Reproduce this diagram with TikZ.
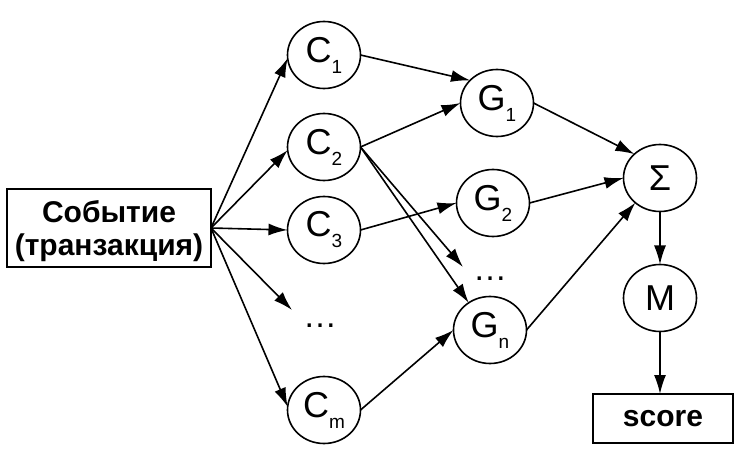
\documentclass[tikz,border=0pt]{standalone}
\usepackage{fontspec}
\setmainfont{Liberation Sans}
\usetikzlibrary{shapes.geometric,arrows.meta}

% letter with a lowered index, as used inside the round units
\newcommand{\unitlabel}[2]{{\fontsize{36}{36}\selectfont #1}\raisebox{-11pt}{\fontsize{19}{19}\selectfont #2}}

\begin{document}
\begin{tikzpicture}[x=1pt,y=-1pt,
  every node/.style={inner sep=0pt, outer sep=0pt},
  unit/.style={ellipse, draw, line width=1.6pt, minimum width=73pt, minimum height=67pt,
               font=\fontsize{36}{36}\selectfont},
  frame/.style={draw, line width=1.6pt},
  boldtext/.style={font=\bfseries\fontsize{30}{33}\selectfont, align=center},
  dots/.style={font=\fontsize{34}{34}\selectfont},
  link/.style={line width=1.6pt, -{Latex[length=19pt,width=12pt]}}]

\useasboundingbox (0,0) rectangle (741,454);

% input event
\node[frame, minimum width=204pt, minimum height=78pt] (event) at (109,228) {};
\node[boldtext] (eventtext) at ([yshift=-3pt]event.center) {Событие\\(транзакция)};

% first layer
\node[unit] (C1) at (324,55)  {\unitlabel{C}{1}};
\node[unit] (C2) at (324,147) {\unitlabel{C}{2}};
\node[unit] (C3) at (324,230) {\unitlabel{C}{3}};
\node[dots] (Cdots) at (320,326) {…};
\node[unit] (Cm) at (324,410) {\unitlabel{C}{m}};

% second layer
\node[unit] (G1) at (497,103) {\unitlabel{G}{1}};
\node[unit] (G2) at (493,203) {\unitlabel{G}{2}};
\node[dots] (Gdots) at (490,279) {…};
\node[unit] (Gn) at (490,330) {\unitlabel{G}{n}};

% aggregation and output
\node[unit] (sum) at (660,178) {Σ};
\node[unit] (M) at (660,298) {M};
\node[frame, boldtext, minimum width=140pt, minimum height=49pt] (score) at (663,418.5) {score};

% free ends of the arrows that point at the omitted units
\coordinate (CdotsTip) at (292,310);
\coordinate (GdotsTip) at (463,267);

% event to first layer
\draw[link] (event.east) -- (C1.185);
\draw[link] (event.east) -- (C2.185);
\draw[link] (event.east) -- (C3.west);
\draw[link] (event.east) -- (CdotsTip);
\draw[link] (event.east) -- (Cm.175);

% first layer to second layer
\draw[link] (C1.east) -- (G1.140);
\draw[link] (C2.east) -- (G1.west);
\draw[link] (C2.east) -- (GdotsTip);
\draw[link] (C2.east) -- (Gn.128);
\draw[link] (C3.east) -- (G2.west);
\draw[link] (Cm.east) -- (Gn.west);

% second layer to sum
\draw[link] (G1.east) -- (sum.137);
\draw[link] (G2.east) -- (sum.west);
\draw[link] (Gn.east) -- (sum.225);

% sum to score
\draw[link] (sum.south) -- (M.north);
\draw[link] (M.south) -- (M.south |- score.north);
\end{tikzpicture}
\end{document}
